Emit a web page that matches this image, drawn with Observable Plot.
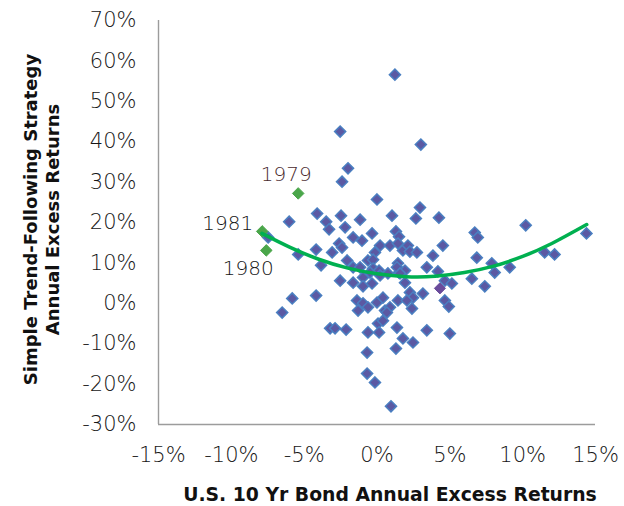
<!DOCTYPE html>
<html><head><meta charset="utf-8">
<script src="https://cdn.jsdelivr.net/npm/d3@7"></script>
<script src="https://cdn.jsdelivr.net/npm/@observablehq/plot@0.6"></script>
<style>body{margin:0;background:#fff}</style>
</head><body><div id="chart"></div>
<script>
// U.S. 10 Yr Bond annual excess returns (%) vs Simple trend-following strategy annual excess returns (%)
const bondX = [1.23,-2.53,3.01,-1.99,-2.40,0.00,2.95,2.67,4.25,1.03,-6.03,-4.11,-3.49,-3.29,-2.47,-2.19,-1.16,-1.64,-1.03,-0.34,1.30,1.51,10.21,14.38,6.71,6.92,-7.47,-5.41,-4.18,-3.84,-3.08,-2.60,-2.40,-2.05,-1.64,-1.16,-0.62,-0.14,0.21,0.89,1.44,1.78,2.12,2.26,2.74,3.84,4.52,6.85,11.51,12.19,7.88,8.08,9.11,3.42,4.18,-0.27,-0.27,0.14,1.44,1.51,1.92,-2.53,-1.64,-0.96,-0.48,-0.34,0.21,0.75,1.37,1.58,1.92,2.26,2.47,3.15,4.66,5.14,6.51,7.40,4.66,4.93,-5.82,-4.18,-6.51,-1.37,-0.96,-0.62,0.00,0.41,0.55,0.89,1.44,2.05,2.40,-3.22,-2.88,-2.12,-0.62,0.07,0.14,1.37,1.78,2.47,3.42,5.00,-0.68,1.30,-0.68,-0.14,0.96,0.68,-0.96,-1.30,0.41];
const trendY = [56.6,42.5,39.3,33.4,30.1,25.7,23.7,21.0,21.2,21.7,20.2,22.2,20.2,18.3,21.7,18.8,20.7,16.3,15.5,17.3,17.8,16.5,19.3,17.3,17.5,16.3,16.3,12.1,13.3,9.4,12.6,14.8,13.8,10.6,8.9,8.9,10.6,12.6,14.3,14.3,14.8,13.1,14.3,12.8,12.6,11.8,14.3,11.3,12.6,12.1,9.9,7.6,8.9,8.9,7.9,10.8,8.6,8.1,9.9,7.6,8.1,5.6,5.1,6.4,7.6,4.9,6.9,7.4,8.9,7.4,5.1,2.7,1.4,2.4,5.6,4.9,6.1,4.2,0.7,-0.8,1.2,1.9,-2.3,0.7,0.0,-1.0,0.2,1.4,-1.8,-1.0,0.7,0.7,-1.3,-6.2,-6.2,-6.5,-7.2,-5.0,-7.2,-6.0,-8.7,-9.7,-6.7,-7.5,-12.2,-11.2,-17.4,-19.6,-25.5,-2.3,4.2,-1.8,-4.3];

// highlighted years
const yearLabels = ["1979", "1980", "1981"];
const yearX = [-5.41, -7.60, -7.88];
const yearY = [27.2, 13.1, 17.8];

// one darker point
const otherX = [4.32];
const otherY = [3.7];

// quadratic trend line
const fitX = [-7.9, -6, -4, -2, 0, 2, 4, 6, 8, 10, 12, 14.4];
const fitY = [17.3, 13.9, 10.9, 8.7, 7.3, 6.6, 6.7, 7.6, 9.2, 11.6, 14.8, 19.5];

const xTicks = [-15, -10, -5, 0, 5, 10, 15];
const yTicks = [-30, -20, -10, 0, 10, 20, 30, 40, 50, 60, 70];

const pts = bondX.map((x, i) => ({x, y: trendY[i]}));
const others = otherX.map((x, i) => ({x, y: otherY[i]}));
const years = yearLabels.map((label, i) => ({label, x: yearX[i], y: yearY[i]}));
const fit = fitX.map((x, i) => ({x, y: fitY[i]}));

const font = "'DejaVu Sans', sans-serif";
const tickColor = "#161616";

const chart = Plot.plot({
  width: 624,
  height: 506,
  marginLeft: 158,
  marginRight: 29,
  marginTop: 20,
  marginBottom: 82,
  style: {fontFamily: font, background: "#fff"},
  x: {domain: [-15, 15]},
  y: {domain: [-30, 70]},
  marks: [
    Plot.axisX({ticks: xTicks, tickSize: 0, tickPadding: 23, tickFormat: d => d + "%", fontSize: 21, fontWeight: 300, fill: tickColor, label: null}),
    Plot.axisY({ticks: yTicks, tickSize: 0, tickPadding: 22, tickFormat: d => d + "%", fontSize: 21, fontWeight: 300, fill: tickColor, label: null}),
    Plot.ruleX([-15], {stroke: "#9c9c9c", strokeWidth: 1.4}),
    Plot.ruleY([-30], {stroke: "#9c9c9c", strokeWidth: 1.4}),
    Plot.dot(pts, {x: "x", y: "y", symbol: "diamond2", r: 5, fill: "#5b59a3", stroke: "#4a7fc1", strokeWidth: 1.5}),
    Plot.dot(others, {x: "x", y: "y", symbol: "diamond2", r: 5, fill: "#6a4b9b", stroke: "#6a4b9b", strokeWidth: 1}),
    Plot.dot(years, {x: "x", y: "y", symbol: "diamond2", r: 5.2, fill: "#4aa64a", stroke: "#4aa64a", strokeWidth: 1}),
    Plot.line(fit, {x: "x", y: "y", curve: "natural", stroke: "#00b050", strokeWidth: 3.5}),
    Plot.text(years.filter(d => d.label === "1979"), {x: "x", y: "y", text: "label", dx: -12, dy: -19, fontSize: 20, fontWeight: 300, fill: "#4a2a2e", textAnchor: "middle"}),
    Plot.text(years.filter(d => d.label === "1981"), {x: "x", y: "y", text: "label", dx: -9, dy: -8, fontSize: 20, fontWeight: 300, fill: "#161616", textAnchor: "end"}),
    Plot.text(years.filter(d => d.label === "1980"), {x: "x", y: "y", text: "label", dx: -18, dy: 18, fontSize: 20, fontWeight: 300, fill: "#161616", textAnchor: "middle"}),
    Plot.text(["U.S. 10 Yr Bond Annual Excess Returns"], {frameAnchor: "bottom", lineAnchor: "middle", dy: 70, dx: 13, fontSize: 18.8, fontWeight: "bold", fill: "#111"}),
    Plot.text(["Simple Trend-Following Strategy\nAnnual Excess Returns"], {frameAnchor: "left", textAnchor: "middle", lineAnchor: "middle", rotate: -90, dx: -118, dy: -3, fontSize: 18, fontWeight: "bold", fill: "#111", lineHeight: 1.22})
  ]
});
document.getElementById("chart").appendChild(chart);
</script>
</body></html>
